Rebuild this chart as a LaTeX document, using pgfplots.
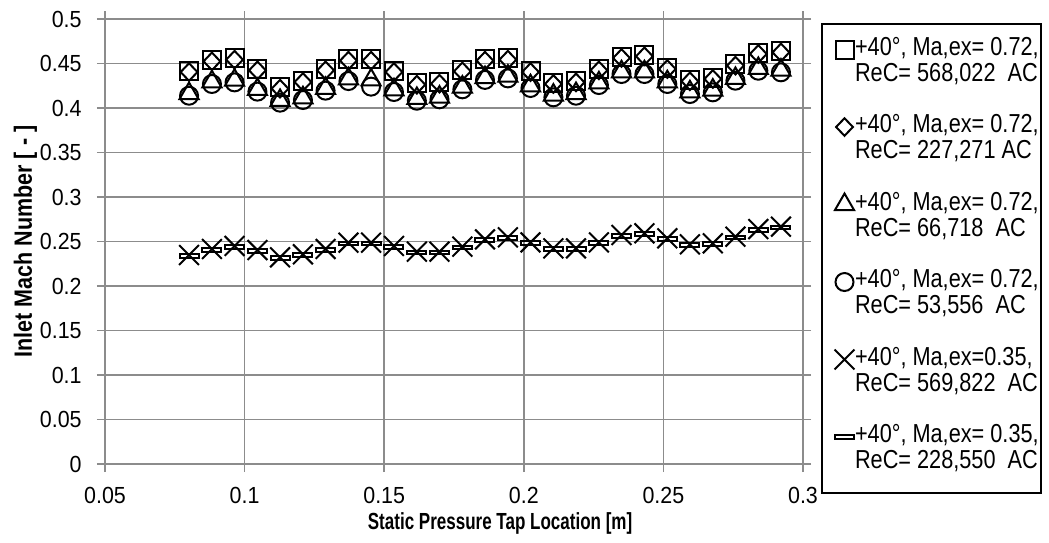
\documentclass[border=0pt]{standalone}
\usepackage{pgfplots}
\pgfplotsset{compat=1.18}
\usepackage{pgfplotstable}
\usepackage{fontspec}
\setmainfont{Liberation Sans}
\newfontfamily\tickfont{Liberation Sans}[FakeStretch=0.92]
\newfontfamily\legfont{Liberation Sans}[FakeStretch=0.835]
\newfontfamily\xlabfont{Liberation Sans}[FakeStretch=0.73]
\newfontfamily\ylabfont{Liberation Sans}[FakeStretch=0.86]
\definecolor{gridgray}{RGB}{140,140,140}
\newcommand{\legtwo}[2]{\begin{tabular}{@{}l@{\hspace{1pt}}}#1\\#2\end{tabular}}

\pgfplotstableread{
x sq dia tri cir cross dash
0.0801 0.4419 0.4404 0.4163 0.4138 0.2348 0.2338
0.0883 0.4539 0.4524 0.4295 0.4270 0.2416 0.2406
0.0964 0.4558 0.4543 0.4313 0.4288 0.2450 0.2440
0.1046 0.4438 0.4423 0.4209 0.4184 0.2404 0.2394
0.1127 0.4232 0.4217 0.4085 0.4060 0.2322 0.2312
0.1209 0.4307 0.4292 0.4115 0.4090 0.2356 0.2346
0.1290 0.4438 0.4423 0.4220 0.4195 0.2416 0.2406
0.1372 0.4547 0.4532 0.4328 0.4303 0.2487 0.2477
0.1453 0.4547 0.4532 0.4315 0.4240 0.2487 0.2477
0.1535 0.4419 0.4404 0.4205 0.4180 0.2450 0.2440
0.1617 0.4277 0.4262 0.4107 0.4082 0.2386 0.2376
0.1698 0.4288 0.4273 0.4123 0.4098 0.2386 0.2376
0.1780 0.4427 0.4412 0.4235 0.4210 0.2442 0.2432
0.1861 0.4547 0.4532 0.4341 0.4316 0.2524 0.2514
0.1943 0.4558 0.4543 0.4358 0.4333 0.2547 0.2537
0.2024 0.4419 0.4404 0.4250 0.4225 0.2490 0.2480
0.2106 0.4285 0.4270 0.4145 0.4120 0.2423 0.2413
0.2187 0.4303 0.4288 0.4163 0.4138 0.2423 0.2413
0.2269 0.4438 0.4423 0.4283 0.4258 0.2490 0.2480
0.2350 0.4577 0.4562 0.4407 0.4382 0.2573 0.2563
0.2432 0.4596 0.4581 0.4407 0.4382 0.2592 0.2582
0.2514 0.4453 0.4438 0.4295 0.4270 0.2536 0.2526
0.2595 0.4315 0.4300 0.4182 0.4157 0.2468 0.2458
0.2677 0.4341 0.4326 0.4201 0.4176 0.2480 0.2470
0.2758 0.4491 0.4476 0.4332 0.4307 0.2554 0.2544
0.2840 0.4622 0.4607 0.4444 0.4419 0.2640 0.2630
0.2921 0.4640 0.4625 0.4426 0.4401 0.2667 0.2657
}\datatable

\begin{document}
\begin{tikzpicture}
\begin{axis}[
  at={(0pt,0pt)}, anchor=south west,
  scale only axis, width=349pt, height=222.5pt,
  xmin=0.05, xmax=0.3, ymin=0, ymax=0.5,
  xtick={0.05,0.1,0.15,0.2,0.25,0.3},
  xticklabels={0.05,0.1,0.15,0.2,0.25,0.3},
  ytick={0,0.05,0.1,0.15,0.2,0.25,0.3,0.35,0.4,0.45,0.5},
  yticklabels={0,0.05,0.1,0.15,0.2,0.25,0.3,0.35,0.4,0.45,0.5},
  tick align=outside, major tick length=4pt,
  tick style={draw=gridgray, line width=0.9pt},
  axis line style={draw=gridgray, line width=0.9pt},
  grid=major, major grid style={draw=gridgray, line width=0.9pt},
  ticklabel style={font=\tickfont\fontsize{11.65}{12}\selectfont, text=black},
  xticklabel style={inner sep=0pt, anchor=north, yshift=-7.5pt},
  yticklabel style={inner sep=0pt, anchor=east, xshift=-7.5pt},
  xlabel={\bfseries Static Pressure Tap Location [m]},
  xlabel style={at={(axis description cs:0.566,-0.1483)}, anchor=base, inner sep=0pt,
    font=\xlabfont\fontsize{11.65}{12}\selectfont},
  ylabel={\bfseries Inlet Mach Number [ - ]},
  ylabel style={at={(axis description cs:-0.1046,0.5)}, anchor=base, inner sep=0pt,
    font=\ylabfont\fontsize{12.5}{12}\selectfont},
  every axis plot/.append style={only marks, line width=1pt, draw=black},
  legend cell align=left,
  legend image code/.code={\path[draw=none,fill=none] (0pt,-19pt) rectangle (16.5pt,7pt);
     \draw[#1] plot coordinates {(11.25pt,2.5pt)};},
  legend style={at={(1.0258,0.9910)}, anchor=north west,
    draw=black, line width=1pt, inner xsep=0pt, inner ysep=6.5pt,
    nodes={inner sep=0pt}, column sep=0pt, row sep=11pt,
    font=\legfont\fontsize{13}{13}\selectfont},
]
\addplot[mark=square, mark size=4.5pt] table[x=x, y=sq] {\datatable};
\addlegendentry{\legtwo{+40°, Ma,ex= 0.72,}{ReC= 568,022\ \ AC}}
\addplot[mark=diamond, mark size=4.4pt, mark options={xscale=1.27}] table[x=x, y=dia] {\datatable};
\addlegendentry{\legtwo{+40°, Ma,ex= 0.72,}{ReC= 227,271 AC}}
\addplot[mark=triangle, mark size=5.5pt] table[x=x, y=tri] {\datatable};
\addlegendentry{\legtwo{+40°, Ma,ex= 0.72,}{ReC= 66,718\ \ AC}}
\addplot[mark=o, mark size=4.5pt] table[x=x, y=cir] {\datatable};
\addlegendentry{\legtwo{+40°, Ma,ex= 0.72,}{ReC= 53,556\ \ AC}}
\addplot[mark=x, mark size=7pt] table[x=x, y=cross] {\datatable};
\addlegendentry{\legtwo{+40°, Ma,ex=0.35,}{ReC= 569,822\ \ AC}}
\addplot[mark=square, mark size=4.75pt, mark options={yscale=0.2}] table[x=x, y=dash] {\datatable};
\addlegendentry{\legtwo{+40°, Ma,ex= 0.35,}{ReC= 228,550\ \ AC}}
\end{axis}
\pgfresetboundingbox
\useasboundingbox (-52.5pt,-39pt) rectangle (472pt,232pt);
\end{tikzpicture}
\end{document}
